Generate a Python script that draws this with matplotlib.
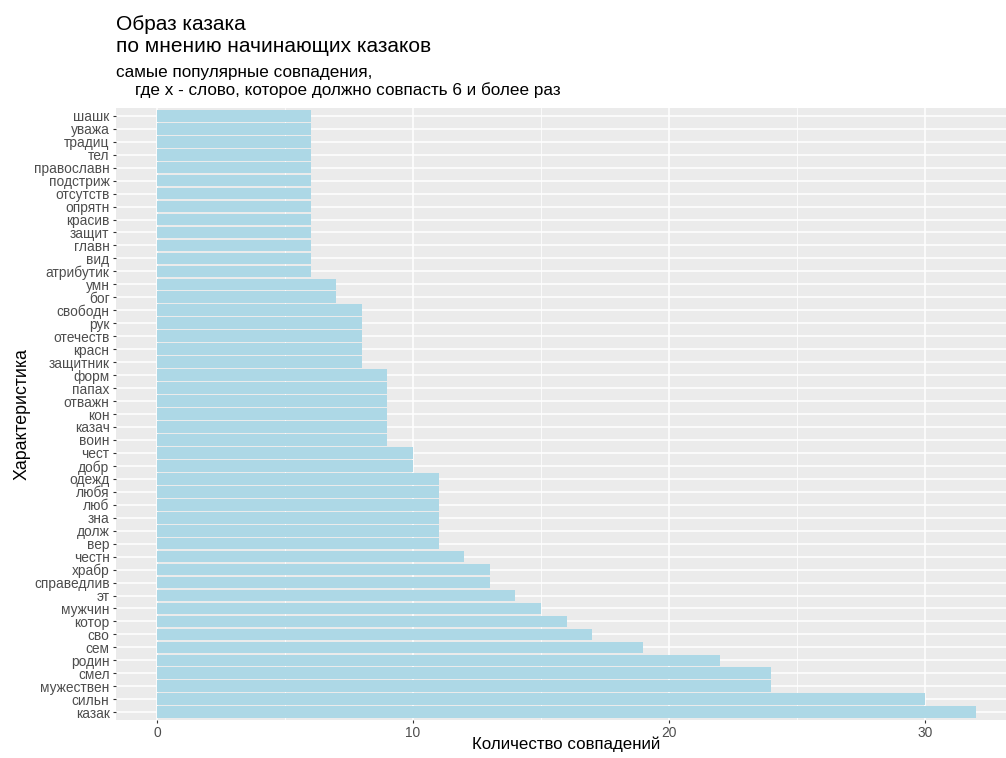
import matplotlib
matplotlib.use("Agg")
import matplotlib.pyplot as plt

plt.rcParams['font.family'] = ['Liberation Sans', 'DejaVu Sans']

# categories from bottom to top
words = ['казак', 'сильн', 'мужествен', 'смел', 'родин', 'сем', 'сво', 'котор',
         'мужчин', 'эт', 'справедлив', 'храбр', 'честн', 'вер', 'долж', 'зна',
         'люб', 'любя', 'одежд', 'добр', 'чест', 'воин', 'казач', 'кон',
         'отважн', 'папах', 'форм', 'защитник', 'красн', 'отечеств', 'рук',
         'свободн', 'бог', 'умн', 'атрибутик', 'вид', 'главн', 'защит',
         'красив', 'опрятн', 'отсутств', 'подстриж', 'православн', 'тел',
         'традиц', 'уважа', 'шашк']
counts = [32, 30, 24, 24, 22, 19, 17, 16,
          15, 14, 13, 13, 12, 11, 11, 11,
          11, 11, 11, 10, 10, 9, 9, 9,
          9, 9, 9, 8, 8, 8, 8,
          8, 7, 7, 6, 6, 6, 6,
          6, 6, 6, 6, 6, 6,
          6, 6, 6]
x_ticks = [0, 10, 20, 30]

title_lines = ['Образ казака', 'по мнению начинающих казаков']
subtitle_lines = ['самые популярные совпадения,',
                  '    где x - слово, которое должно совпасть 6 и более раз']

W, H = 1006, 758
fig = plt.figure(figsize=(W / 100, H / 100), dpi=100)
ax = fig.add_axes([116 / W, 1 - 720 / H, 1 - 116 / W, (720 - 108) / H])

pos = list(range(len(words)))
ax.set_facecolor('#EBEBEB')
ax.barh(pos, counts, height=0.9, color='#ADD8E6', zorder=3)

ax.set_xlim(-1.6, 33.16)
ax.set_ylim(-0.6, len(words) - 0.4)
ax.set_xticks(x_ticks)
ax.set_xticks([5, 15, 25], minor=True)
ax.set_yticks(pos)
ax.set_yticklabels(words)
ax.grid(which='major', color='white', linewidth=1.1, zorder=1)
ax.grid(which='minor', axis='x', color='white', linewidth=0.55, zorder=1)
ax.tick_params(which='major', length=2.4, width=0.8, color='#333333',
               labelcolor='#4D4D4D', labelsize=9.9, pad=2.2)
ax.tick_params(which='minor', length=0)
for s in ax.spines.values():
    s.set_visible(False)

ax.set_xlabel('Количество совпадений', fontsize=12.2)
ax.xaxis.set_label_coords((566.5 - 116) / 890, (720 - 737) / 612)
ax.set_ylabel('Характеристика', fontsize=12.8, va='center')
ax.yaxis.set_label_coords((22 - 116) / 890, 0.5)

# title and subtitle, one line at a time (baselines)
for line, base in zip(title_lines, [30, 52]):
    fig.text(116 / W, 1 - base / H, line, fontsize=15, va='baseline', ha='left')
for line, base in zip(subtitle_lines, [77, 95]):
    fig.text(116 / W, 1 - base / H, line, fontsize=12.3, va='baseline', ha='left')

fig.savefig('out.png', dpi=100)
